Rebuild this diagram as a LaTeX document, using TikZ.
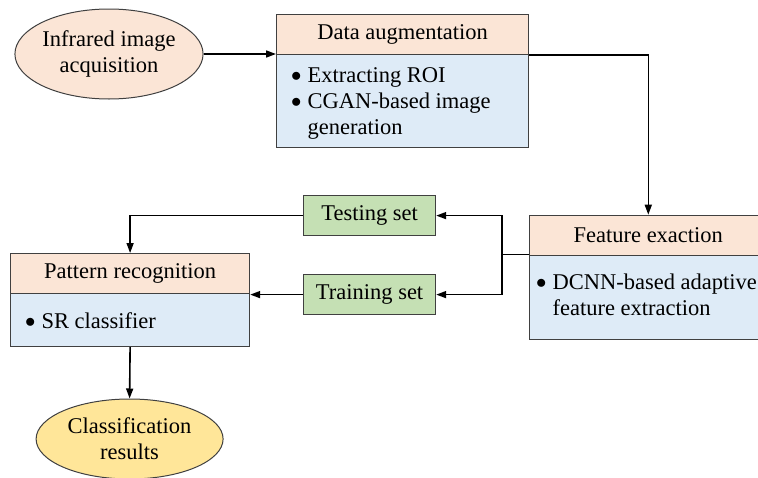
\documentclass[tikz,border=0pt]{standalone}
\usepackage{fontspec}
\setmainfont{Liberation Serif}
\usetikzlibrary{arrows.meta,shapes.geometric}
\definecolor{peach}{HTML}{FBE5D6}
\definecolor{lblue}{HTML}{DEEBF7}
\definecolor{lgreen}{HTML}{C5E0B4}
\definecolor{gold}{HTML}{FFE699}
\definecolor{edge}{HTML}{404040}
\newcommand{\bul}{\raisebox{0.5pt}{$\bullet$}}
\begin{document}
\begin{tikzpicture}[x=1pt,y=-1pt,
  every node/.style={font=\fontsize{22.5}{26}\selectfont},
  hdr/.style={draw=edge,line width=1.2pt,fill=peach,inner sep=0pt,anchor=north west},
  bdy/.style={draw=edge,line width=1.2pt,fill=lblue,inner sep=0pt,anchor=north west},
  setbox/.style={draw=edge,line width=1.2pt,fill=lgreen,inner sep=0pt,minimum width=132pt,minimum height=40pt,anchor=north west},
  oval/.style={draw=edge,line width=1pt,ellipse,inner sep=0pt,align=center},
  btext/.style={inner sep=0pt,anchor=north west},
  conn/.style={line width=1.6pt,-{Triangle[length=10pt,width=7pt]}},
  plain/.style={line width=1.6pt}]
\useasboundingbox (0,0) rectangle (758,477);
\clip (0,0) rectangle (758,477);
% ellipses
\node[oval,fill=peach,minimum width=174pt,minimum height=90pt] (ir) at (109,54) {Infrared image\\acquisition};
\node[oval,fill=gold,minimum width=187pt,minimum height=80pt] (cls) at (129.6,439) {Classification\\results};
% data augmentation
\node[hdr,minimum width=252pt,minimum height=40pt] (dah) at (276,14) {Data augmentation};
\node[bdy,minimum width=252pt,minimum height=93pt] (dab) at (276,54) {};
\node[btext] (dat) at (291,64) {\begin{tabular}{@{}l@{\hspace{6pt}}l@{}}\bul&Extracting ROI\\\bul&CGAN-based image\\&generation\end{tabular}};
% feature exaction
\node[hdr,minimum width=238pt,minimum height=40pt] (feh) at (528.7,214.7) {Feature exaction};
\node[bdy,minimum width=238pt,minimum height=84pt] (feb) at (528.7,254.5) {};
\node[btext] (fet) at (536,271) {\begin{tabular}{@{}l@{\hspace{6pt}}l@{}}\bul&DCNN-based adaptive\\&feature extraction\end{tabular}};
% pattern recognition
\node[hdr,minimum width=239pt,minimum height=40pt] (prh) at (10,253) {Pattern recognition};
\node[bdy,minimum width=239pt,minimum height=53pt] (prb) at (10,293) {};
\node[btext] (prt) at (25,310) {\begin{tabular}{@{}l@{\hspace{6pt}}l@{}}\bul&SR classifier\end{tabular}};
% sets
\node[setbox] (test) at (303,195) {Testing set};
\node[setbox] (train) at (303,274) {Training set};
% connectors
\coordinate (jn) at (501.7,254.5);
\draw[conn] (ir.east) -- (ir.east -| dah.west);
\draw[conn] (dah.south east) -| (feh.north);
\draw[plain] (feh.west |- jn) -- (jn);
\draw[conn] (jn) |- (test.east);
\draw[conn] (jn) |- (train.east);
\draw[conn] (test.west) -| (prh.north);
\draw[conn] (train.west) -- (train.west -| prh.east);
\draw[conn] (prb.south) -- (cls.north);
\end{tikzpicture}
\end{document}
